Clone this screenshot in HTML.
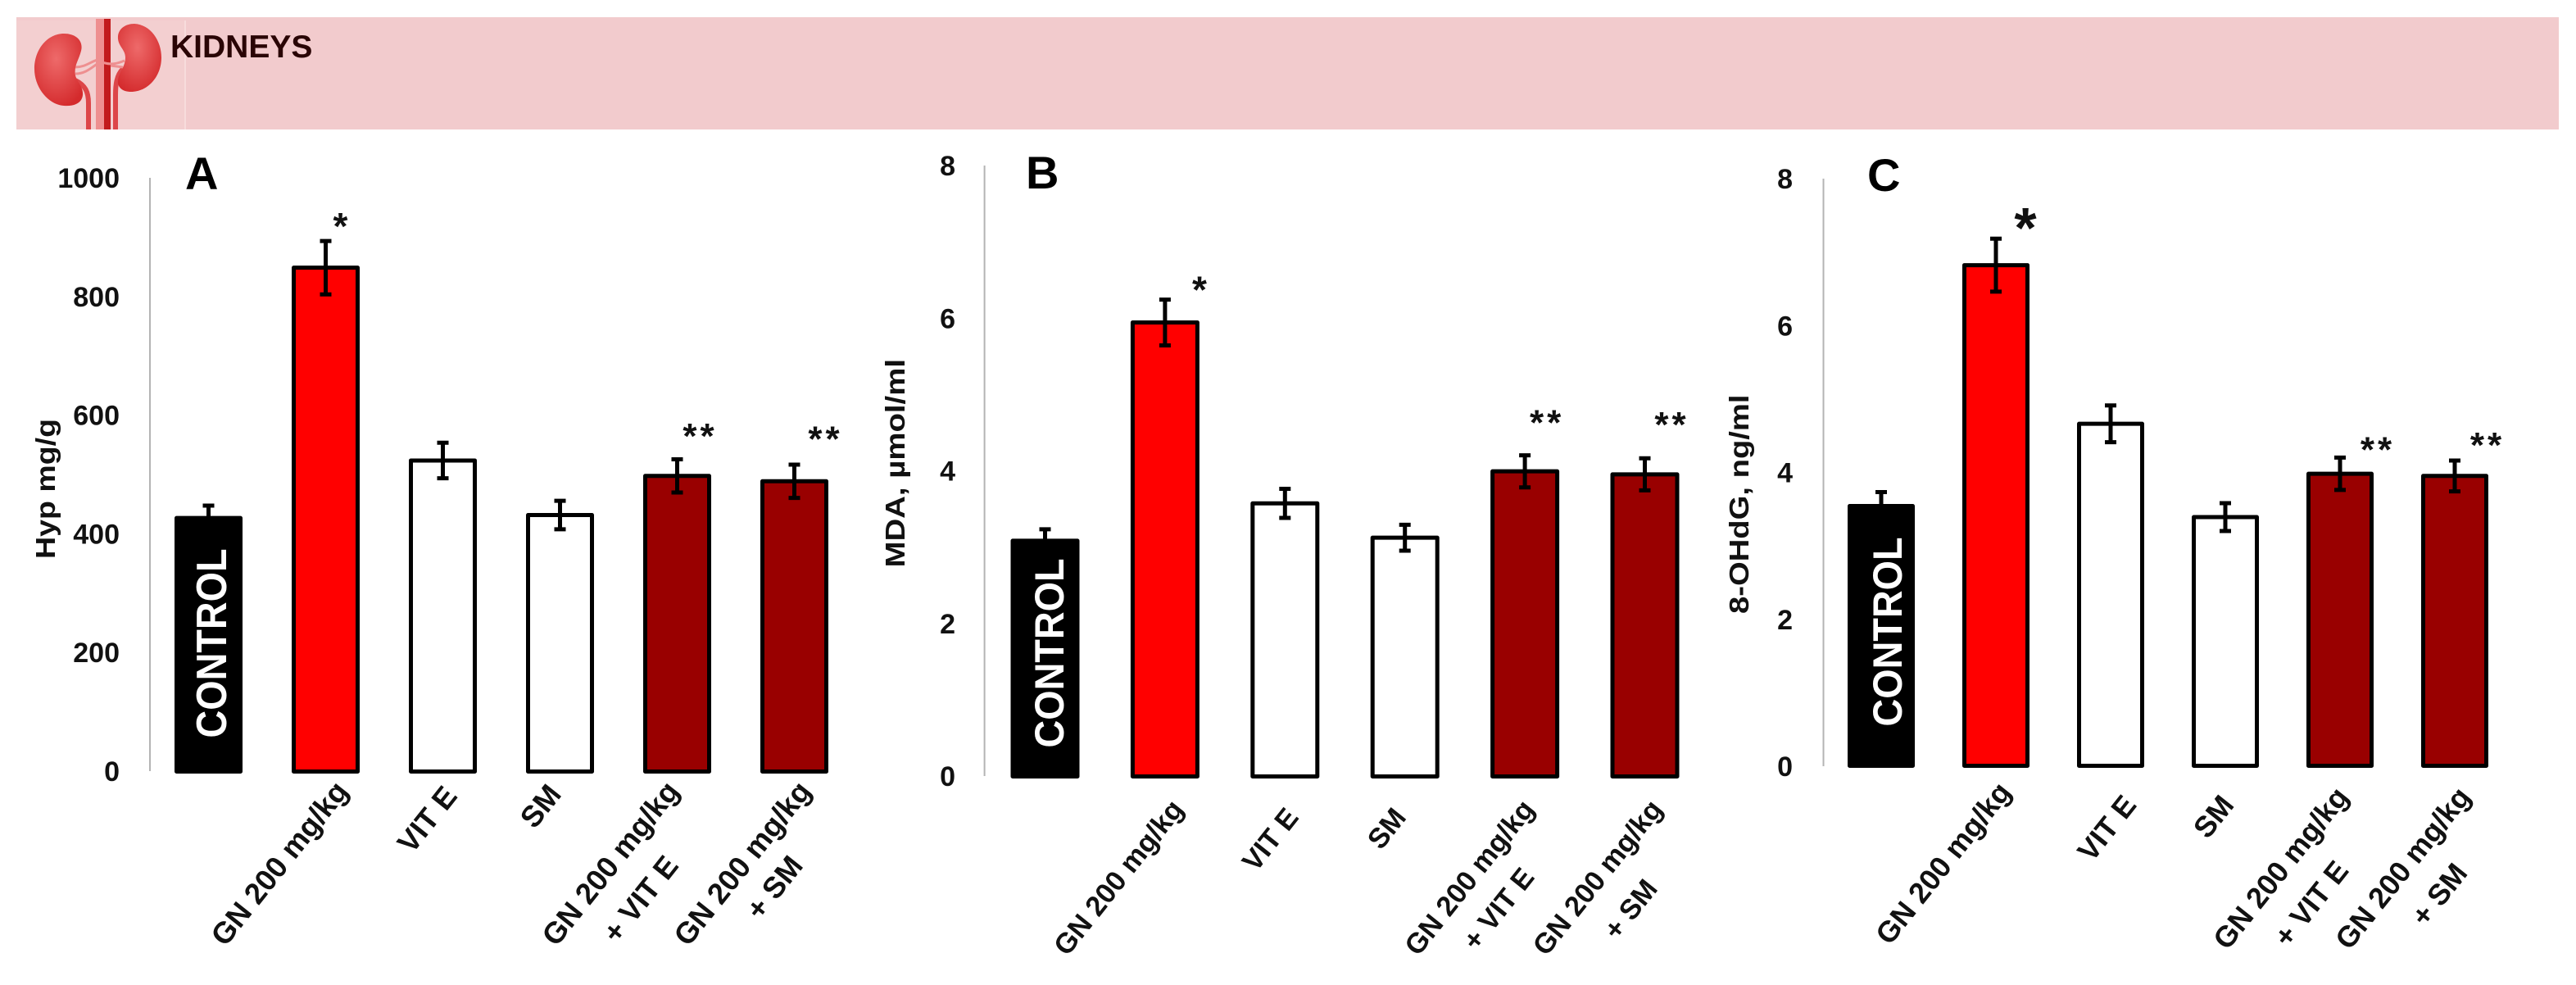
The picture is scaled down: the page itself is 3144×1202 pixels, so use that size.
<!DOCTYPE html>
<html lang="en">
<head>
<meta charset="utf-8">
<title>Kidneys panel</title>
<style>
html,body{margin:0;padding:0;background:#fff}
svg{display:block}
text{font-family:"Liberation Sans",sans-serif;font-weight:bold}
</style>
</head>
<body>
<svg id="figure" xmlns="http://www.w3.org/2000/svg" width="3144" height="1202" viewBox="0 0 3144 1202">
  <defs>
    <radialGradient id="kg" cx="45%" cy="35%" r="70%">
      <stop offset="0" stop-color="#ee6a6a"/>
      <stop offset="1" stop-color="#d42a2c"/>
    </radialGradient>
  </defs>
  <rect x="20" y="21" width="3103" height="137" fill="#f2cbcd"/>
  <g>
    <rect x="20" y="25" width="206" height="133" fill="#f3cfd0"/>
    <rect x="225" y="25" width="2" height="133" fill="#f7dcdc"/>
    <rect x="117" y="23" width="10" height="135" fill="#ee8f90"/>
    <rect x="127" y="23" width="8" height="135" fill="#c21a1c"/>
    <path d="M92 98 C104 104 108 112 108 126 L108 158" fill="none" stroke="#dd4649" stroke-width="6"/>
    <path d="M150 84 C142 92 141 104 141 116 L141 158" fill="none" stroke="#dd4649" stroke-width="6"/>
    <path d="M92 82 C105 82 112 74 122 72 M92 90 C106 90 114 80 122 76" fill="none" stroke="#ee8f90" stroke-width="3"/>
    <path d="M122 75 C135 80 142 78 152 74 M135 80 L150 82" fill="none" stroke="#ee8f90" stroke-width="3"/>
    <path d="M78 41 C93 41 102 50 99 62 C96 74 90 80 92 92 C94 100 102 106 101 116 C100 126 90 130 78 129 C60 128 42 108 42 84 C42 60 58 41 78 41 Z" fill="url(#kg)"/>
    <path d="M164 29 C184 30 197 50 197 70 C197 94 180 112 160 112 C150 112 143 107 144 98 C145 88 153 82 153 70 C153 60 143 56 144 44 C145 35 153 29 164 29 Z" fill="url(#kg)"/>
  </g>
  <text x="208" y="70" font-size="39" fill="#2a0505">KIDNEYS</text>
</svg>
<script>
const categories = ["CONTROL", "GN 200 mg/kg", "VIT E", "SM", "GN 200 mg/kg|+ VIT E", "GN 200 mg/kg|+ SM"];
const hypValues = [430, 852, 527, 435, 501, 492];
const hypErrors = [21, 45, 30, 24, 28, 28];
const hypTicks = [0, 200, 400, 600, 800, 1000];
const mdaValues = [3.11, 5.97, 3.6, 3.15, 4.02, 3.98];
const mdaErrors = [0.15, 0.3, 0.19, 0.17, 0.21, 0.21];
const mdaTicks = [0, 2, 4, 6, 8];
const ohdgValues = [3.57, 6.85, 4.69, 3.42, 4.01, 3.98];
const ohdgErrors = [0.19, 0.36, 0.25, 0.19, 0.22, 0.21];
const ohdgTicks = [0, 2, 4, 6, 8];
const significance = ["", "*", "", "", "**", "**"];

const NS = "http://www.w3.org/2000/svg";
const root = document.getElementById("figure");
function mk(parent, tag, attrs, txt) {
  const el = document.createElementNS(NS, tag);
  for (const k in attrs) el.setAttribute(k, attrs[k]);
  if (txt !== undefined) el.textContent = txt;
  parent.appendChild(el);
  return el;
}
const barFill = ["#000000", "#ff0000", "#ffffff", "#ffffff", "#990000", "#990000"];
const SW = 5;

function drawPanel(p) {
  const g = mk(root, "g", {});
  
  
  const y = v => p.y0 - (v / p.max) * (p.y0 - p.yTop);
  const x = i => p.x0 + i * p.step;

  const axis = mk(g, "line", {x1: p.axisX, x2: p.axisX, y1: p.yTop, y2: p.y0, stroke: "#b4b4b4", "stroke-width": 2});
  
  

  p.ticks.forEach(t => {
    const lab = mk(g, "text", {x: p.tickX, y: y(t) + 12, "text-anchor": "end", "font-size": 34, fill: "#111"}, String(t));
    
    
  });

  const cy = (p.titleTop + p.titleBottom) / 2;
  const title = mk(g, "text", {x: 0, y: 0, "text-anchor": "middle", "font-size": 33, fill: "#111",
    textLength: p.titleBottom - p.titleTop, lengthAdjust: "spacingAndGlyphs",
    transform: "translate(" + p.titleX + "," + cy + ") rotate(-90)"}, p.title);
  
  

  const letter = mk(g, "text", {x: p.letterX, y: p.letterY, "font-size": 56, fill: "#000"}, p.letter);
  
  

  p.values.forEach((v, i) => {
    const top = y(v);
    const bar = mk(g, "rect", {x: x(i) - p.barW / 2 + SW / 2, y: top + SW / 2,
      width: p.barW - SW, height: p.barBottom - top - SW,
      fill: barFill[i], stroke: "#000", "stroke-width": SW, "stroke-linejoin": "round"});
    
    

    const c = top + SW / 2, e = (p.errors[i] / p.max) * (p.y0 - p.yTop);
    const err = mk(g, "path", {d: "M" + x(i) + " " + (c - e) + "V" + (c + e) +
      "M" + (x(i) - 7) + " " + (c - e) + "H" + (x(i) + 7) +
      "M" + (x(i) - 7) + " " + (c + e) + "H" + (x(i) + 7),
      fill: "none", stroke: "#000", "stroke-width": 5});
    
    

    if (significance[i]) {
      const off = p.starOffsets[i];
      const isDouble = significance[i].length > 1;
      const fs = isDouble ? p.doubleStarSize : p.starSize;
      const s = mk(g, "text", {x: x(i) + off[0], y: top - off[1] + fs * 0.47, "text-anchor": "middle",
        "font-size": fs, "letter-spacing": isDouble ? 4 : 0, fill: "#111"}, significance[i]);
      
      
    }

    if (i === 0) {
      const t = mk(g, "text", {x: 0, y: 0, "text-anchor": "middle", "font-size": p.ctlSize, fill: "#fff",
        textLength: 231, lengthAdjust: "spacingAndGlyphs",
        transform: "translate(" + p.ctlX + "," + p.ctlY + ") rotate(-90)"}, categories[0]);
      
      
    } else {
      categories[i].split("|").forEach((line, li) => {
        const a = p.labelAnchors[i][li];
        const t = mk(g, "text", {x: 0, y: 0, "text-anchor": "end", "font-size": p.catSize, fill: "#111",
          transform: "translate(" + (x(i) + a[0]) + "," + (p.barBottom + a[1]) + ") rotate(-51.5)"}, line);
        
        
      });
    }
  });
}

drawPanel({key: "a", letter: "A", title: "Hyp mg/g", values: hypValues, errors: hypErrors, ticks: hypTicks, max: 1000,
  axisX: 183, yTop: 217, y0: 941, barBottom: 944, x0: 254.5, step: 143, barW: 83, tickX: 146,
  titleX: 67, titleTop: 511, titleBottom: 682, letterX: 226, letterY: 231, ctlX: 276, ctlY: 785, ctlSize: 52,
  starSize: 46, doubleStarSize: 44, starOffsets: [null, [18, 54], null, null, [28, 52], [38, 55]], catSize: 36.5,
  labelAnchors: [null, [[29, 22]], [[19, 28]], [[3, 26]], [[4, 22], [3, 113]], [[22, 22], [12, 113]]]});
drawPanel({key: "b", letter: "B", title: "MDA, \u00b5mol/ml", values: mdaValues, errors: mdaErrors, ticks: mdaTicks, max: 8,
  axisX: 1201.6, yTop: 202, y0: 947, barBottom: 950, x0: 1275.5, step: 146.4, barW: 84, tickX: 1166,
  titleX: 1104, titleTop: 438, titleBottom: 692.5, letterX: 1252, letterY: 230, ctlX: 1298, ctlY: 797, ctlSize: 50,
  starSize: 46, doubleStarSize: 44, starOffsets: [null, [42, 43], null, null, [27, 63], [33, 64]], catSize: 34.5,
  labelAnchors: [null, [[24, 38]], [[18, 48]], [[3, 48]], [[13, 38], [13, 121]], [[23, 38], [17, 135]]]});
drawPanel({key: "c", letter: "C", title: "8-OHdG, ng/ml", values: ohdgValues, errors: ohdgErrors, ticks: ohdgTicks, max: 8,
  axisX: 2225.5, yTop: 218, y0: 935, barBottom: 937, x0: 2296, step: 140, barW: 82, tickX: 2188,
  titleX: 2134, titleTop: 481.5, titleBottom: 749, letterX: 2279, letterY: 233, ctlX: 2321, ctlY: 771, ctlSize: 50,
  starSize: 70, doubleStarSize: 44, starOffsets: [null, [36, 52], null, null, [46, 33], [40, 41]], catSize: 36,
  labelAnchors: [null, [[20, 30]], [[33, 46]], [[12, 46]], [[12, 36], [12, 126]], [[21, 36], [17, 129]]]});
</script>
</body>
</html>
